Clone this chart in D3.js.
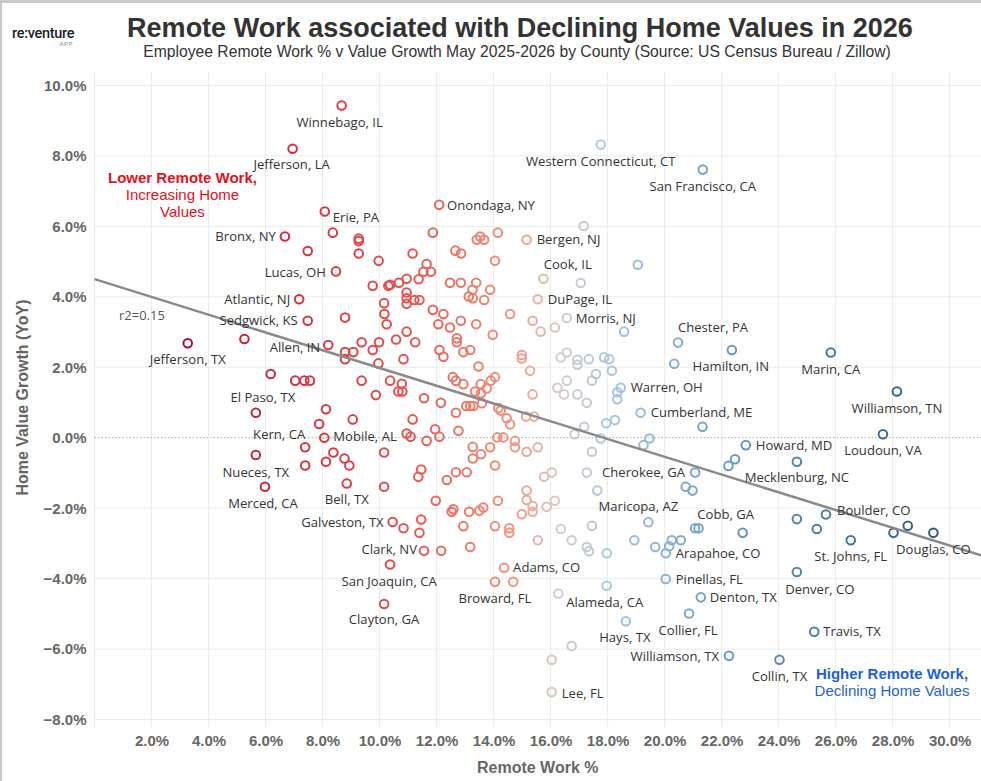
<!DOCTYPE html>
<html>
<head>
<meta charset="utf-8">
<script src="https://cdn.jsdelivr.net/npm/d3@7"></script>
<style>
  body { margin: 0; background: #fff; }
  svg { display: block; }
</style>
</head>
<body>
<div id="chart"></div>
<script>
// ---- data ----
var xTicks = [2, 4, 6, 8, 10, 12, 14, 16, 18, 20, 22, 24, 26, 28, 30];
var yTicks = [-8, -6, -4, -2, 0, 2, 4, 6, 8, 10];

// remote work % (x) and YoY home value growth % (y), one entry per county
var remoteWork = [
  3.27, 5.26, 5.66, 5.66, 5.98, 6.18, 6.68, 6.95, 7.04, 7.36, 7.56, 7.18, 7.48, 7.48, 7.39, 7.39,
  7.88, 8.06, 8.12, 8.08, 8.20, 8.36, 8.47, 8.67, 8.12, 8.38, 8.77, 8.94, 8.85, 8.79, 8.79, 9.08,
  8.79, 9.06, 9.27, 9.27, 9.27, 9.37, 9.37, 9.76, 9.76, 9.87, 9.96, 9.97, 9.98, 10.16, 10.17, 10.25,
  10.16, 10.16, 10.16, 10.37, 10.31, 10.37, 10.37, 10.46, 10.58, 10.66, 10.80, 10.68, 10.78, 10.84,
  10.84, 10.95, 10.95, 10.95, 10.95, 10.95, 10.95, 11.09, 11.16, 11.16, 11.22, 11.25, 11.37, 11.36,
  11.40, 11.40, 11.46, 11.46, 11.54, 11.56, 11.56, 11.65, 11.65, 11.80, 11.87, 11.87, 11.95, 11.97,
  12.06, 12.09, 12.10, 12.10, 12.15, 12.16, 12.24, 12.24, 12.36, 12.47, 12.47, 12.53, 12.59, 12.57,
  12.66, 12.68, 12.68, 12.68, 12.71, 12.71, 12.77, 12.85, 12.85, 12.86, 12.94, 12.94, 12.94, 13.04,
  13.06, 13.13, 13.14, 13.18, 13.18, 13.18, 13.26, 13.27, 13.27, 13.27, 13.29, 13.35, 13.39, 13.39,
  13.41, 13.47, 13.50, 13.53, 13.55, 13.56, 13.56, 13.59, 13.64, 13.67, 13.67, 13.76, 13.88, 13.88,
  13.90, 13.97, 14.05, 14.05, 14.05, 14.05, 14.05, 14.13, 14.15, 14.15, 14.17, 14.25, 14.34, 14.37,
  14.46, 14.55, 14.55, 14.58, 14.58, 14.69, 14.75, 14.75, 14.99, 14.99, 14.99, 15.14, 15.16, 15.16,
  15.16, 15.16, 15.28, 15.37, 15.37, 15.37, 15.37, 15.42, 15.55, 15.55, 15.55, 15.65, 15.75, 15.77,
  15.86, 16.04, 16.04, 16.04, 16.15, 16.15, 16.24, 16.27, 16.36, 16.36, 16.47, 16.57, 16.57, 16.57,
  16.74, 16.74, 16.84, 16.94, 16.94, 16.94, 17.06, 17.16, 17.18, 17.27, 17.27, 17.27, 17.34, 17.35,
  17.45, 17.45, 17.45, 17.59, 17.64, 17.76, 17.76, 17.88, 17.95, 17.97, 17.97, 18.06, 18.15, 18.26,
  18.34, 18.34, 18.46, 18.58, 18.64, 18.94, 19.06, 19.16, 19.26, 19.43, 19.47, 19.67, 20.04, 20.04,
  20.16, 20.25, 20.34, 20.47, 20.57, 20.74, 20.86, 20.98, 21.07, 21.07, 21.19, 21.27, 21.33, 21.34,
  22.24, 22.26, 22.36, 22.47, 22.74, 22.85, 24.03, 24.64, 24.64, 24.64, 25.25, 25.34, 25.66, 25.83,
  26.53, 27.66, 28.03, 28.15, 28.53, 29.43
];
var valueGrowth = [
  2.68, 2.80, 0.71, -0.49, -1.39, 1.81, 5.71, 8.20, 1.62, 1.62, 1.62, 3.93, 3.32, 5.30, -0.27, -0.79,
  0.39, 0.00, 0.81, 6.42, 2.63, 5.82, 4.72, 9.43, -0.68, -0.42, -0.59, -0.79, -1.30, 3.41, 2.43, 2.43,
  2.23, 0.52, 5.65, 5.58, 5.23, 2.71, 1.62, 4.31, 2.49, 1.21, 2.11, 5.02, 2.71, 3.82, 3.51, 3.22,
  -0.42, -1.39, -4.72, -3.60, 4.31, 4.34, 1.62, -2.39, 2.79, 1.31, 1.31, 4.40, 1.53, 2.23,
  -2.57, 4.51, 4.12, 3.96, 3.80, 3.01, 0.12, 0.03, 5.23, 0.52, 3.91, 2.71, 4.50, -1.11,
  3.91, -2.70, -0.90, -2.32, 4.71, 1.12, -3.21, 4.93, -0.09, 4.71, 5.82, 3.63, 0.24, -1.79,
  3.22, 6.61, 2.49, 0.03, 0.99, -3.21, 3.51, 2.30, -1.20, 4.40, 3.13, -2.10, -2.03, 1.72,
  5.31, 1.62, 0.71, -0.98, 2.82, 2.71, 0.20, 4.40, 3.32, 5.23, 2.43, 1.52, -2.51, 0.90,
  -0.98, 4.01, -2.10, 2.49, 0.90, -3.10, 4.20, 3.96, -0.26, -0.59, 0.90, 1.31, 4.40, 3.22,
  5.62, 2.02, -2.07, 5.71, 1.52, 1.26, -0.47, 0.98, -1.98, 5.62, 3.91, 1.40, 4.20, -0.27,
  1.62, 2.92, 5.02, 1.72, -0.79, -2.51, -4.09, 0.01, 5.82, -1.79, 0.84, 0.77, 0.01, -3.69,
  0.55, -2.57, -2.70, 3.51, 0.38, -4.09, -0.09, -0.27, 2.35, 2.25, -2.17, 0.60, 5.62, -0.40,
  -1.50, -1.77, 1.90, 3.32, 1.23, -1.94, -2.10, 0.60, 3.93, -0.27, -2.91, 3.01, 4.51, -1.11,
  -1.96, -0.99, -6.30, -7.22, 3.13, -1.79, 1.42, -4.42, 2.28, -2.59, 1.23, 3.40, 2.42, 1.62,
  -2.91, -5.91, 0.10, 2.21, 2.07, 1.23, 4.39, 6.01, 0.31, 0.99, -0.99, -3.10, 2.23, -3.22,
  1.62, -0.40, -2.50, 1.81, -1.50, 8.32, -0.02, 2.28, 0.41, -3.28, -4.20, 2.23, 1.90, 0.50,
  1.29, 1.09, 1.42, 3.01, -5.21, -2.91, 4.91, 0.71, -0.21, -2.40, -0.02, -3.10, -3.28, -4.01,
  -3.08, -2.91, 2.10, 2.70, -2.91, -1.39, -4.99, -1.50, -0.99, -2.57, -2.57, -4.53, 0.31, 7.61,
  -0.80, -6.19, 2.49, -0.61, -2.70, -0.21, -6.30, -0.68, -2.31, -3.81, -5.51, -2.59, -2.18, 2.42,
  -2.91, 0.10, -2.70, 1.31, -2.50, -2.70
];

// labelled counties: name, remote work %, value growth %
var labelCounty = [
  "Winnebago, IL", "Jefferson, LA", "Erie, PA", "Onondaga, NY", "Bronx, NY", "Lucas, OH",
  "Atlantic, NJ", "Sedgwick, KS", "Jefferson, TX", "Allen, IN", "El Paso, TX", "Kern, CA",
  "Mobile, AL", "Nueces, TX", "Merced, CA", "Bell, TX", "Galveston, TX", "Clark, NV",
  "San Joaquin, CA", "Clayton, GA", "Adams, CO", "Broward, FL", "Alameda, CA", "Lee, FL",
  "Hays, TX", "Collier, FL", "Williamson, TX", "Collin, TX", "Denton, TX", "Pinellas, FL",
  "Arapahoe, CO", "Cobb, GA", "Maricopa, AZ", "Cherokee, GA", "Warren, OH", "Cumberland, ME",
  "Hamilton, IN", "Chester, PA", "Morris, NJ", "DuPage, IL", "Cook, IL", "Bergen, NJ",
  "Western Connecticut, CT", "San Francisco, CA", "Marin, CA", "Williamson, TN", "Loudoun, VA",
  "Howard, MD", "Mecklenburg, NC", "Boulder, CO", "St. Johns, FL", "Douglas, CO", "Denver, CO",
  "Travis, TX"
];
var labelRemote = [
  8.67, 6.95, 8.08, 12.09, 6.68, 8.47, 7.18, 7.48, 3.27, 8.20, 5.66, 7.39,
  8.06, 5.66, 5.98, 8.85, 10.46, 11.56, 10.37, 10.16, 14.37, 14.05, 17.97, 16.04,
  18.64, 20.86, 22.26, 24.03, 21.27, 20.04, 20.04, 22.74, 19.43, 21.07, 18.46, 19.16,
  22.36, 20.47, 16.57, 15.55, 17.06, 15.16, 17.76, 21.34, 25.83, 28.15, 27.66,
  22.85, 24.64, 25.66, 26.53, 29.43, 24.64, 25.25
];
var labelGrowth = [
  9.43, 8.20, 6.42, 6.61, 5.71, 4.72, 3.93, 3.32, 2.68, 2.63, 0.71, -0.27,
  0.00, -0.49, -1.39, -1.30, -2.39, -3.21, -3.60, -4.72, -3.69, -4.09, -4.20, -7.22,
  -5.21, -4.99, -6.19, -6.30, -4.53, -4.01, -3.28, -2.70, -2.40, -0.99, 1.42, 0.71,
  2.49, 2.70, 3.40, 3.93, 4.39, 5.62, 8.32, 7.61, 2.42, 1.31, 0.10,
  -0.21, -0.68, -2.18, -2.91, -2.70, -3.81, -5.51
];

// trend line (as shown in the reference) and its r squared
var trendIntercept = 4.5;
var trendSlope = -0.252;
var trendR2 = 0.15;

// ---- layout ----
var width = 981, height = 781;
var plot = { left: 94.5, right: 981, top: 72, bottom: 727 };

var svg = d3.select("#chart").append("svg")
    .attr("width", width)
    .attr("height", height);

var x = d3.scaleLinear().domain([0, 31.1]).range([plot.left, plot.right]);
var y = d3.scaleLinear().domain([-8.21, 10.38]).range([plot.bottom, plot.top]);

var color = d3.scaleLinear()
    .domain([3.27, 7, 11, 14.5, 16.4, 18.5, 22, 29.43])
    .range(["#a90c38", "#d42f3f", "#e6524f", "#f2917b", "#d6cdcd", "#a2c3df", "#6b9bcb", "#2e5a87"])
    .interpolate(d3.interpolateLab)
    .clamp(true);

// frame
svg.append("rect").attr("x", 0).attr("y", 0).attr("width", width).attr("height", 3).attr("fill", "#c9c9c9");
svg.append("rect").attr("x", 0).attr("y", 0).attr("width", 2).attr("height", height).attr("fill", "#c9c9c9");

// logo
svg.append("text")
    .attr("x", 12).attr("y", 38)
    .style("font-family", "Roboto, 'Liberation Sans', sans-serif")
    .style("font-size", "14.5px").style("font-weight", 500)
    .style("letter-spacing", "-0.3px")
    .style("fill", "#1d1d2b")
    .text("re:venture");
svg.append("text")
    .attr("x", 73).attr("y", 46).attr("text-anchor", "end")
    .style("font-family", "'Liberation Sans', Arial, sans-serif")
    .style("font-size", "6px").style("letter-spacing", "0.5px")
    .style("fill", "#888")
    .text("APP");

// titles
svg.append("text")
    .attr("x", 520).attr("y", 37).attr("text-anchor", "middle")
    .style("font-family", "'Liberation Sans', Arial, sans-serif")
    .style("font-size", "27px").style("font-weight", "bold")
    .style("fill", "#333")
    .text("Remote Work associated with Declining Home Values in 2026");
svg.append("text")
    .attr("x", 517).attr("y", 57).attr("text-anchor", "middle")
    .style("font-family", "'Liberation Sans', Arial, sans-serif")
    .style("font-size", "15.7px")
    .style("fill", "#333")
    .text("Employee Remote Work % v Value Growth May 2025-2026 by County (Source: US Census Bureau / Zillow)");

// gridlines
var grid = svg.append("g");
grid.selectAll(".vg").data([0].concat(xTicks)).enter().append("line")
    .attr("x1", function(d) { return x(d); }).attr("x2", function(d) { return x(d); })
    .attr("y1", plot.top).attr("y2", plot.bottom)
    .attr("stroke", "#ebebeb").attr("stroke-width", 1);
grid.selectAll(".hg").data(yTicks.filter(function(d) { return d !== 0; })).enter().append("line")
    .attr("x1", plot.left).attr("x2", plot.right)
    .attr("y1", function(d) { return y(d); }).attr("y2", function(d) { return y(d); })
    .attr("stroke", "#ebebeb").attr("stroke-width", 1);
grid.append("line")
    .attr("x1", plot.left).attr("x2", plot.right)
    .attr("y1", y(0)).attr("y2", y(0))
    .attr("stroke", "#a8a8a8").attr("stroke-width", 1)
    .attr("stroke-dasharray", "1.5,2");

// axes (labels only)
var axisFont = "'Liberation Sans', Arial, sans-serif";
var yAxis = svg.append("g")
    .attr("transform", "translate(" + (plot.left - 8) + ",0)")
    .call(d3.axisLeft(y).tickValues(yTicks).tickSize(0).tickPadding(0)
        .tickFormat(function(d) { return d3.format(".1f")(d) + "%"; }));
yAxis.select(".domain").remove();
yAxis.selectAll("text")
    .style("font-family", axisFont).style("font-size", "15px").style("font-weight", "bold")
    .style("fill", "#666");

var xAxis = svg.append("g")
    .attr("transform", "translate(0," + (plot.bottom + 8) + ")")
    .call(d3.axisBottom(x).tickValues(xTicks).tickSize(0).tickPadding(0)
        .tickFormat(function(d) { return d3.format(".1f")(d) + "%"; }));
xAxis.select(".domain").remove();
xAxis.selectAll("text")
    .style("font-family", axisFont).style("font-size", "15px").style("font-weight", "bold")
    .style("fill", "#666");

svg.append("text")
    .attr("x", (plot.left + plot.right) / 2).attr("y", 773).attr("text-anchor", "middle")
    .style("font-family", axisFont).style("font-size", "16px").style("font-weight", "bold")
    .style("fill", "#666")
    .text("Remote Work %");
svg.append("text")
    .attr("transform", "translate(28," + ((plot.top + plot.bottom) / 2 - 2) + ") rotate(-90)")
    .attr("text-anchor", "middle")
    .style("font-family", axisFont).style("font-size", "16px").style("font-weight", "bold")
    .style("fill", "#666")
    .text("Home Value Growth (YoY)");

// points
var points = remoteWork.map(function(v, i) { return { rw: v, vg: valueGrowth[i] }; });
svg.append("g").selectAll("circle").data(points).enter().append("circle")
    .attr("cx", function(d) { return x(d.rw); })
    .attr("cy", function(d) { return y(d.vg); })
    .attr("r", 4.3)
    .attr("fill", "none")
    .attr("stroke", function(d) { return color(d.rw); })
    .attr("stroke-width", 2);

// trend line
var trendX = x.domain();
svg.append("line")
    .attr("x1", x(trendX[0])).attr("y1", y(trendIntercept + trendSlope * trendX[0]))
    .attr("x2", x(trendX[1])).attr("y2", y(trendIntercept + trendSlope * trendX[1]))
    .attr("stroke", "#8a8a8a").attr("stroke-width", 2.5);

svg.append("text")
    .attr("x", 119).attr("y", 320)
    .style("font-family", "'Open Sans', sans-serif").style("font-size", "13px")
    .style("fill", "#555")
    .text("r2=" + trendR2);

// label placement: [dx, dy (to text centre), anchor]
var placement = {
  "Winnebago, IL": [-2, 16.5, "middle"], "Jefferson, LA": [-1, 15.5, "middle"],
  "Erie, PA": [8, 5.5, "start"], "Onondaga, NY": [8, 1, "start"],
  "Bronx, NY": [-9, 0, "end"], "Lucas, OH": [-10, 1, "end"],
  "Atlantic, NJ": [-9, 0, "end"], "Sedgwick, KS": [-10, 0, "end"],
  "Jefferson, TX": [0, 16, "middle"], "Allen, IN": [-8, 2, "end"],
  "El Paso, TX": [7, -15, "middle"], "Kern, CA": [-26, -13, "middle"],
  "Mobile, AL": [9, -1, "start"], "Nueces, TX": [0, 17, "middle"],
  "Merced, CA": [-2, 16.5, "middle"], "Bell, TX": [0, 16, "middle"],
  "Galveston, TX": [-9, 0, "end"], "Clark, NV": [-7, -1, "end"],
  "San Joaquin, CA": [-1, 17, "middle"], "Clayton, GA": [0, 15.5, "middle"],
  "Adams, CO": [9, 0, "start"], "Broward, FL": [0, 17, "middle"],
  "Alameda, CA": [-2, 17, "middle"], "Lee, FL": [10, 1, "start"],
  "Hays, TX": [-1, 16, "middle"], "Collier, FL": [-1, 17, "middle"],
  "Williamson, TX": [-10, 1, "end"], "Collin, TX": [0, 17, "middle"],
  "Denton, TX": [9, 0, "start"], "Pinellas, FL": [10, 0, "start"],
  "Arapahoe, CO": [10, 0, "start"], "Cobb, GA": [-17, -18, "middle"],
  "Maricopa, AZ": [-10, -16, "middle"], "Cherokee, GA": [-10, 0, "end"],
  "Warren, OH": [10, 0, "start"], "Cumberland, ME": [10, 0, "start"],
  "Hamilton, IN": [-1, 16, "middle"], "Chester, PA": [35, -15, "middle"],
  "Morris, NJ": [9, 0, "start"], "DuPage, IL": [10, 0, "start"],
  "Cook, IL": [-13, -19, "middle"], "Bergen, NJ": [10, 0, "start"],
  "Western Connecticut, CT": [0, 16.7, "middle"], "San Francisco, CA": [0, 16.7, "middle"],
  "Marin, CA": [0, 16.6, "middle"], "Williamson, TN": [0, 16.6, "middle"],
  "Loudoun, VA": [0, 16, "middle"], "Howard, MD": [10, 0, "start"],
  "Mecklenburg, NC": [0, 16, "middle"], "Boulder, CO": [11, -4, "start"],
  "St. Johns, FL": [0, 16, "middle"], "Douglas, CO": [0, 16.6, "middle"],
  "Denver, CO": [23, 17.6, "middle"], "Travis, TX": [9, 0, "start"]
};

var labels = labelCounty.map(function(n, i) { return { name: n, rw: labelRemote[i], vg: labelGrowth[i] }; });
svg.append("g").selectAll("text").data(labels).enter().append("text")
    .attr("x", function(d) { return x(d.rw) + placement[d.name][0]; })
    .attr("y", function(d) { return y(d.vg) + placement[d.name][1] + 4.6; })
    .attr("text-anchor", function(d) { return placement[d.name][2]; })
    .style("font-family", "'Open Sans', sans-serif").style("font-size", "13.1px")
    .style("fill", "#333")
    .text(function(d) { return d.name; });

// annotations
function note(cx, cy, lines, fill) {
  var t = svg.append("text").attr("text-anchor", "middle")
      .style("font-family", axisFont).style("font-size", "15px").style("fill", fill);
  lines.forEach(function(l, i) {
    t.append("tspan").attr("x", cx).attr("y", cy + i * 17)
        .style("font-weight", i === 0 ? "bold" : "normal")
        .text(l);
  });
}
note(182.5, 182.5, ["Lower Remote Work,", "Increasing Home", "Values"], "#e5101e");
note(892, 678.5, ["Higher Remote Work,", "Declining Home Values"], "#1f5fd6");
</script>
</body>
</html>
